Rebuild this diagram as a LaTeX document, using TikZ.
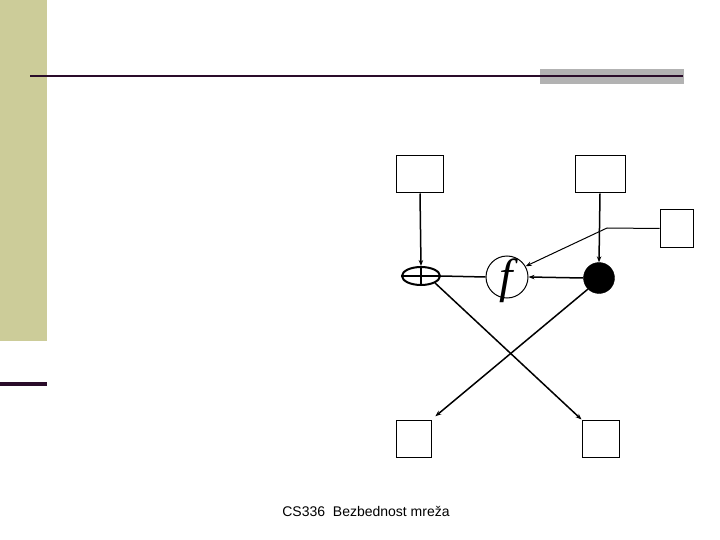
\documentclass[tikz,border=0pt]{standalone}
\usepackage{fontspec}
\newfontfamily\footfont{Liberation Sans}
\newfontfamily\funcfont{Liberation Serif}
\usepackage{xcolor}
\definecolor{sidebar}{RGB}{204,204,153}
\definecolor{rulepurple}{RGB}{42,12,42}
\definecolor{rulegray}{RGB}{178,178,178}
\usetikzlibrary{arrows.meta,positioning,shapes.geometric,calc}

\tikzset{
  keybox/.style={draw,line width=1pt,inner sep=0pt,minimum height=37pt},
  xorgate/.style={draw,ellipse,line width=2pt,inner sep=0pt,minimum width=38pt,minimum height=18pt},
  fround/.style={draw,circle,line width=1pt,inner sep=0pt,minimum size=42pt},
  bullet/.style={draw,circle,fill=black,inner sep=0pt,minimum size=31pt},
  arr/.style={-{Stealth[length=6pt,width=4.5pt]},line width=1.5pt},
  wire/.style={line width=1.5pt}
}

\begin{document}
\begin{tikzpicture}[x=1pt,y=-1pt]
  \useasboundingbox (0,0) rectangle (720,540);

  %% Slide decoration
  \fill[sidebar] (0,0) rectangle (47,341);
  \fill[rulepurple] (0,382) rectangle (47,386);
  \fill[rulegray] (540,69) rectangle (684,84);
  \draw[rulepurple,line width=2.5pt] (30,76) -- (683,76);

  %% Boxes
  \node[keybox,minimum width=47pt] (keyL) at (420,174.5) {};
  \node[keybox,minimum width=50pt] (keyR) at (600,174.5) {};
  \node[keybox,minimum width=33pt] (iv)   at (676.5,228.5) {};
  \node[keybox,minimum width=35pt] (outL) at (413.5,438.5) {};
  \node[keybox,minimum width=37pt] (outR) at (600.5,438.5) {};

  %% XOR, f and the black dot
  \node[xorgate] (xor) at (421,276) {};
  \draw[line width=2pt] (xor.north) -- (xor.south);
  \draw[line width=2pt] (xor.west) -- (xor.east);
  \node[fround] (fn) at (507,277) {};
  \node[font=\funcfont\fontsize{48}{48}\selectfont\itshape] (flabel) at (506,281) {f};
  \node[bullet] (dot) at (599,278) {};
  \coordinate (bend) at (607,228);

  %% Connectors
  \draw[arr] (keyL.south) -- (xor.north);
  \draw[arr] (keyR.south) -- (dot.north);
  \draw[line width=1pt] (iv.west) -- (bend);
  \draw[-{Stealth[length=6pt,width=4.5pt]},line width=1pt] (bend) -- (fn.30);
  \draw[wire] (xor.east) -- (fn.west);
  \draw[arr] (dot.west) -- (fn.east);
  \draw[arr] (xor.south east) -- (outR.north west);
  \draw[arr,shorten >=5pt] (dot.south west) -- (outL.north east);

  %% Footer
  \node[font=\footfont\fontsize{14}{16}\selectfont] (foot) at (366,511) {CS336\ \ Bezbednost mreža};
\end{tikzpicture}
\end{document}
